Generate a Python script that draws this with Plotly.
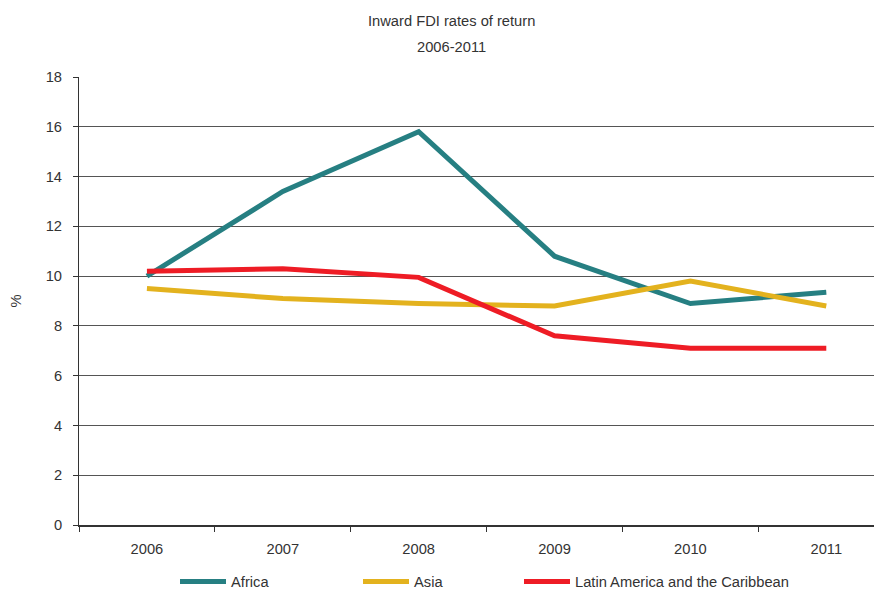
import plotly.graph_objects as go

years = ["2006", "2007", "2008", "2009", "2010", "2011"]
africa = [10.0, 13.4, 15.8, 10.8, 8.9, 9.35]
asia = [9.5, 9.1, 8.9, 8.8, 9.8, 8.8]
latam = [10.2, 10.3, 9.95, 7.6, 7.1, 7.1]
y_ticks = [0, 2, 4, 6, 8, 10, 12, 14, 16, 18]

series = [
    ("Africa", africa, "#267F82", "legend"),
    ("Asia", asia, "#E3B21E", "legend2"),
    ("Latin America and the Caribbean", latam, "#EE1C25", "legend3"),
]

fig = go.Figure()
for name, vals, color, lg in series:
    fig.add_trace(go.Scatter(
        x=years, y=vals, name=name, mode="lines",
        line=dict(color=color, width=5),
        legend=lg,
    ))

font = dict(family="Liberation Sans, Arial, sans-serif", size=14.7, color="#333333")
leg_common = dict(orientation="h", yanchor="middle", xanchor="left",
                  xref="container", yref="container",
                  font=font, bgcolor="rgba(0,0,0,0)", itemwidth=46)

# page is offset by 8px body margin
OFF = 8
W, H = 882, 590
L, T, PW, PH = 79 - OFF, 77 - OFF, 803, 448
leg_y = 1 - (582 - OFF) / H

def lx(page_x):
    return (page_x - 5 - OFF) / W

fig.update_layout(
    width=W, height=H,
    margin=dict(l=L, r=W - L - PW, t=T, b=H - T - PH),
    paper_bgcolor="white", plot_bgcolor="white",
    font=font,
    showlegend=True,
    legend=dict(x=lx(180), y=leg_y, **leg_common),
    legend2=dict(x=lx(363), y=leg_y, **leg_common),
    legend3=dict(x=lx(524), y=leg_y, **leg_common),
    xaxis=dict(
        type="category", range=[-0.5, 5.41], automargin=False,
        showline=True, linecolor="#333333", linewidth=1.5,
        ticks="outside", tickson="boundaries", ticklen=5, tickcolor="#333333",
        showgrid=False, zeroline=False, tickfont=font, ticklabelstandoff=10,
    ),
    yaxis=dict(
        range=[0, 18], tickvals=y_ticks, automargin=False,
        showline=True, linecolor="#333333", linewidth=1,
        ticks="outside", ticklen=5, tickcolor="#333333",
        showgrid=True, gridcolor="#555555", gridwidth=1,
        zeroline=False, tickfont=font, ticklabelstandoff=8,
        title=dict(text="%", font=font, standoff=20),
    ),
)
fig.add_annotation(text="Inward FDI rates of return", x=(451 - OFF - L) / PW,
                   y=(T + PH - (21 - OFF)) / PH,
                   xref="paper", yref="paper", showarrow=False, font=font,
                   xanchor="center", yanchor="middle")
fig.add_annotation(text="2006-2011", x=(451 - OFF - L) / PW,
                   y=(T + PH - (47 - OFF)) / PH,
                   xref="paper", yref="paper", showarrow=False, font=font,
                   xanchor="center", yanchor="middle")

fig.write_html("out.html")
